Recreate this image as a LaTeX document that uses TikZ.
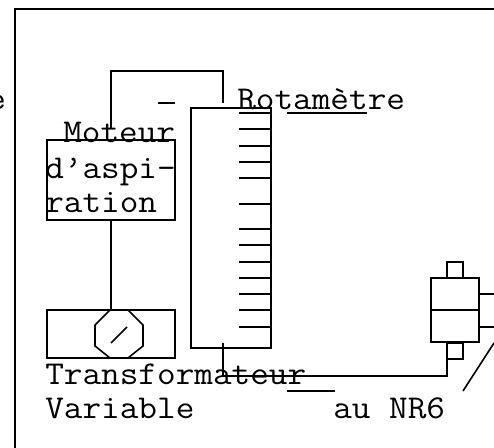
\documentclass[tikz,border=0pt]{standalone}
\newcommand{\wt}[1]{\scalebox{1.086}[1]{#1}}
\tikzset{x=0.75pt,y=-0.75pt,
  ln/.style={draw=black,line width=1.2pt,line cap=butt},
  boxn/.style 2 args={draw=black,line width=1.2pt,minimum width=#1*0.75pt,minimum height=#2*0.75pt,inner sep=0pt,outer sep=0pt,anchor=north west},
  lbl/.style={inner sep=0pt,anchor=base west,font=\ttfamily\fontsize{25}{28}\selectfont}}
\begin{document}
\begin{tikzpicture}
\useasboundingbox (0,0) rectangle (494,448);
% frame
\coordinate (f0) at (15,448); \coordinate (f1) at (15,9); \coordinate (f2) at (494,9);
\draw[ln] (f0)--(f1)--(f2);
% boxes
\node[boxn={128}{80}] (motor) at (47,140) {};
\node[boxn={128}{48}] (trans) at (47,310) {};
\node[boxn={80}{240}] (rota) at (191,108) {};
% octagon
\draw[ln] (110,310)--(128,310)--(143,325)--(143,346)--(128,358)--(110,358)--(95,346)--(95,325)--cycle;
\draw[ln] (111,343)--(127,327);
% wires
\coordinate (a) at (111,129); \coordinate (b) at (111,71); \coordinate (c) at (223,71); \coordinate (d) at (223,103);
\draw[ln] (a)--(b)--(c)--(d);
\draw[ln] (111,220)--(111,310);
\draw[ln] (158,103)--(175,103);
% ticks
\foreach \y in {113,129,146,162,178,204,229,245,262,278,294,310,327}
  \draw[ln] (239,\y)--(271,\y);
% bottom pipe
\coordinate (p0) at (223,343); \coordinate (p1) at (223,376); \coordinate (p2) at (447,376);
\draw[ln] (p0)--(p1)--(p2)--(447,359);
\draw[ln] (287,391)--(335,391);
\draw[ln] (287,113)--(367,113);
% pump
\node[boxn={48}{64}] (pump) at (431,278) {};
\draw[ln] (431,310)--(479,310);
\node[boxn={16}{16}] (t) at (447,262) {};
\node[boxn={16}{16}] (u) at (447,343) {};
\draw[ln] (479,294)--(494,294);
\draw[ln] (479,327)--(494,327);
\draw[ln] (494,343)--(463,391);
% text
\node[lbl] (l0) at (-13,110) {\wt{e}};
\node[lbl] (l1) at (237,110) {\wt{Rotamètre}};
\node[lbl] (l2) at (63,143) {\wt{Moteur}};
\node[lbl] (l3) at (45,179) {\wt{d’aspi-}};
\node[lbl] (l4) at (45,213) {\wt{ration}};
\node[lbl] (l5) at (45,385) {\wt{Transformateur}};
\node[lbl] (l6) at (45,419) {\wt{Variable}};
\node[lbl] (l7) at (333,419) {\wt{au NR6}};
\end{tikzpicture}
\end{document}
